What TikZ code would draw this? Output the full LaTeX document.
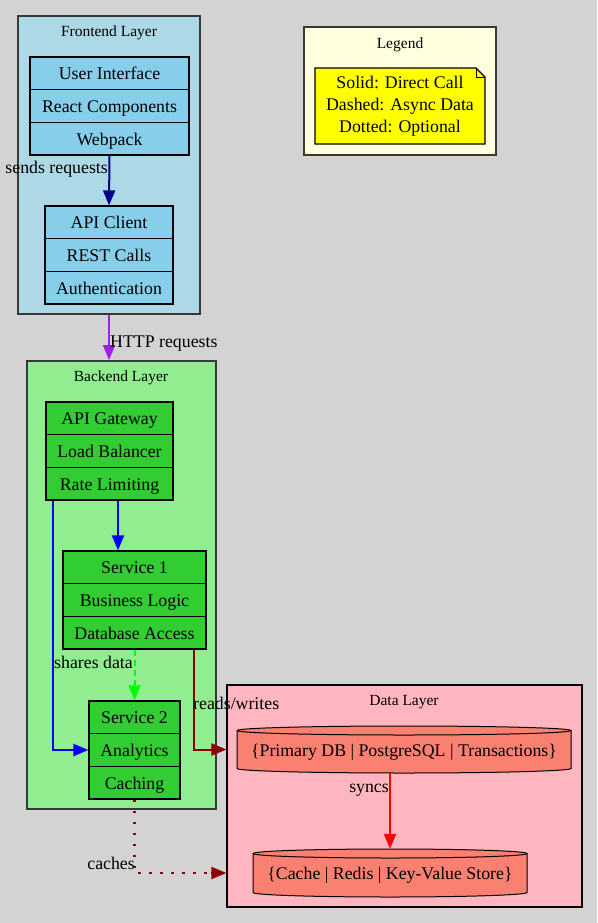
\documentclass[tikz,border=0pt]{standalone}
\usepackage{fontspec}
\setmainfont{Liberation Serif}
\usetikzlibrary{arrows.meta,calc}
\definecolor{bgc}{HTML}{D3D3D3}
\definecolor{lblue}{HTML}{ADD8E6}
\definecolor{sky}{HTML}{87CEEB}
\definecolor{lgreen}{HTML}{90EE90}
\definecolor{lime}{HTML}{32CD32}
\definecolor{lpink}{HTML}{FFB6C1}
\definecolor{salm}{HTML}{FA8072}
\definecolor{lyellow}{HTML}{FFFFE0}
\definecolor{yel}{HTML}{FFFF00}
\definecolor{clborder}{HTML}{383838}
\definecolor{navyc}{HTML}{00008B}
\definecolor{purp}{HTML}{A020F0}
\definecolor{dred}{HTML}{8B0000}
\definecolor{greenc}{HTML}{00FF00}
\tikzset{
  nodefont/.style={font=\fontsize{17.8}{20}\selectfont, text height=13pt, text depth=0pt},
  clfont/.style={font=\fontsize{15.5}{18}\selectfont, text height=10.5pt, text depth=0pt},
  clus/.style={draw=clborder, line width=1.8pt, inner sep=0pt},
  cltitle/.style={clfont, inner sep=0pt},
  recrow/.style={draw=black, line width=1.2pt, inner sep=0pt, minimum height=32.67pt, nodefont},
  frow/.style={recrow, fill=sky},
  brow/.style={recrow, fill=lime},
  cyltext/.style={nodefont, inner sep=0pt},
  elabel/.style={nodefont, inner sep=0pt},
  conn/.style={line width=2pt, -{Triangle[length=15pt,width=12pt]}},
}
\begin{document}
\begin{tikzpicture}[x=1pt,y=-1pt]
\useasboundingbox[fill=bgc] (0,0) rectangle (597,923);

% clusters
\node[clus, fill=lblue, minimum width=182pt, minimum height=298pt] (front) at (109,165) {};
\node[cltitle] (frontt) at (109,31) {Frontend Layer};
\node[clus, fill=lgreen, minimum width=189pt, minimum height=448pt] (back) at (121.5,585) {};
\node[cltitle] (backt) at (121,376) {Backend Layer};
\node[draw=black, line width=1.2pt, fill=lpink, inner sep=0pt, minimum width=355pt, minimum height=222pt] (data) at (404.5,796) {};
\node[cltitle] (datat) at (404,700) {Data Layer};
\node[clus, fill=lyellow, minimum width=192pt, minimum height=128pt] (legend) at (400,91) {};
\node[cltitle] (legendt) at (400,43) {Legend};

% legend note
\fill[yel] (315,68) -- (476,68) -- (485,77) -- (485,144) -- (315,144) -- cycle;
\draw[line width=1.2pt, line join=miter] (315,68) -- (476,68) -- (485,77) -- (485,144) -- (315,144) -- cycle;
\draw[line width=0.9pt] (476,68) -- (476,77) -- (485,77);
\node[align=center, inner sep=0pt, font=\fontsize{17.8}{22}\selectfont] (note) at (400,106) {Solid: Direct Call\\Dashed: Async Data\\Dotted: Optional};

% frontend records
\node[frow, minimum width=159pt] (ui1) at (109.5,73.3) {User Interface};
\node[frow, minimum width=159pt] (ui2) at (109.5,106) {React Components};
\node[frow, minimum width=159pt] (ui3) at (109.5,138.7) {Webpack};
\node[frow, minimum width=128pt] (ac1) at (109,222.3) {API Client};
\node[frow, minimum width=128pt] (ac2) at (109,255) {REST Calls};
\node[frow, minimum width=128pt] (ac3) at (109,287.7) {Authentication};

% backend records
\node[brow, minimum width=127pt] (gw1) at (109.5,418.3) {API Gateway};
\node[brow, minimum width=127pt] (gw2) at (109.5,451) {Load Balancer};
\node[brow, minimum width=127pt] (gw3) at (109.5,483.7) {Rate Limiting};
\node[brow, minimum width=143pt] (sa1) at (134.5,567.3) {Service 1};
\node[brow, minimum width=143pt] (sa2) at (134.5,600) {Business Logic};
\node[brow, minimum width=143pt] (sa3) at (134.5,632.7) {Database Access};
\node[brow, minimum width=91pt] (sb1) at (134.5,717.3) {Service 2};
\node[brow, minimum width=91pt] (sb2) at (134.5,750) {Analytics};
\node[brow, minimum width=91pt] (sb3) at (134.5,782.7) {Caching};

% cylinders
\path[fill=salm, draw=black, line width=1pt] (237,730.5) -- (237,768.5)
  arc[start angle=180, end angle=0, x radius=167, y radius=4.5] -- (571,730.5)
  arc[start angle=0, end angle=-180, x radius=167, y radius=4.5] -- cycle;
\draw[line width=1pt] (237,730.5) arc[start angle=180, end angle=0, x radius=167, y radius=4.5];
\node[cyltext, minimum width=334pt, minimum height=47pt] (pdb) at (404,749.5) {\{Primary DB | PostgreSQL | Transactions\}};

\path[fill=salm, draw=black, line width=1pt] (253,853.5) -- (253,892.5)
  arc[start angle=180, end angle=0, x radius=137, y radius=4.5] -- (527,853.5)
  arc[start angle=0, end angle=-180, x radius=137, y radius=4.5] -- cycle;
\draw[line width=1pt] (253,853.5) arc[start angle=180, end angle=0, x radius=137, y radius=4.5];
\node[cyltext, minimum width=274pt, minimum height=48pt] (cache) at (390,873) {\{Cache | Redis | Key-Value Store\}};

% connectors
\draw[conn, navyc] (ui3.south) -- (ac1.north);
\node[elabel, anchor=east] (l1) at (108,167) {sends requests};

\draw[conn, purp] (front.south -| ac3.south) -- (back.north -| ac3.south);
\node[elabel, anchor=west] (l2) at (110,341) {HTTP requests};

\draw[conn, blue] ([xshift=8.5pt]gw3.south) -- ([xshift=-16.5pt]sa1.north);
\draw[conn, blue] ([xshift=8pt]gw3.south west) |- (sb2.west);

\draw[conn, greenc, dash pattern=on 6pt off 4pt] (sa3.south) -- (sb1.north);
\node[elabel, anchor=east] (l3) at (133,662) {shares data};

\draw[conn, dred] ([xshift=-13pt]sa3.south east) |- (data.west |- pdb.center);
\node[elabel, anchor=west] (l4) at (193,703) {reads/writes};

\draw[conn, red] (cache.north |- pdb.south) -- (cache.north);
\node[elabel, anchor=east] (l5) at (389,786) {syncs};

\draw[line width=2.4pt, dred, dash pattern=on 2.4pt off 8.6pt] (sb3.south) |- ([xshift=-13pt]data.west |- cache.center);
\draw[conn, dred] ([xshift=-15pt]data.west |- cache.center) -- (data.west |- cache.center);
\node[elabel, anchor=east] (l6) at (135,863) {caches};
\end{tikzpicture}
\end{document}
